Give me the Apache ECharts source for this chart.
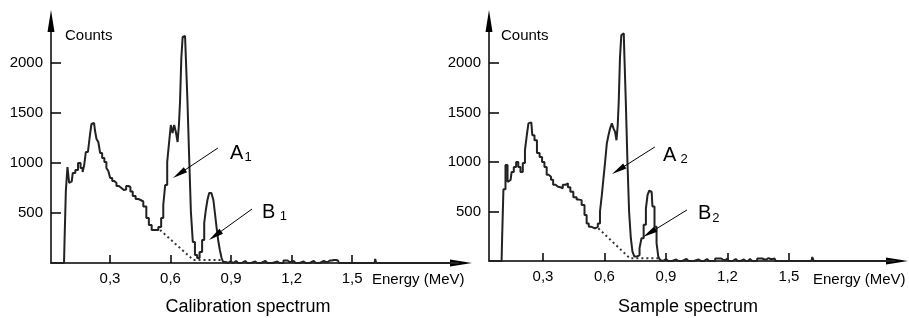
<!DOCTYPE html>
<html>
<head>
<meta charset="utf-8">
<script src="https://cdn.jsdelivr.net/npm/echarts@6/dist/echarts.min.js"></script>
<style>
  html, body { margin: 0; padding: 0; background: #fff; }
  #chart { width: 909px; height: 318px; }
</style>
</head>
<body>
<div id="chart"></div>
<script>
  const FONT = '"Liberation Sans", Arial, sans-serif';

  const energyTicks = [0.3, 0.6, 0.9, 1.2, 1.5];
  const countTicks = [500, 1000, 1500, 2000];

  // calibration spectrum
  const calContE = [0.007, 0.072, 0.077, 0.085, 0.093, 0.102, 0.110, 0.121, 0.135, 0.148, 0.160, 0.168, 0.176, 0.184, 0.197, 0.204, 0.212, 0.221, 0.229, 0.237, 0.247, 0.255, 0.267, 0.277, 0.287, 0.296, 0.306, 0.316, 0.326, 0.338, 0.350, 0.363, 0.374, 0.386, 0.396, 0.406, 0.419, 0.435, 0.446, 0.457, 0.473, 0.487, 0.498, 0.515, 0.531];
  const calContC = [0, 0, 220, 720, 960, 800, 815, 900, 930, 1000, 950, 910, 980, 1110, 1130, 1280, 1390, 1400, 1330, 1240, 1210, 1100, 1050, 1010, 950, 920, 850, 820, 800, 770, 750, 730, 735, 770, 760, 715, 670, 640, 630, 615, 565, 450, 380, 330, 330];
  const calPeakAE = [0.548, 0.559, 0.569, 0.578, 0.589, 0.597, 0.606, 0.614, 0.622, 0.631, 0.639, 0.644, 0.650, 0.657, 0.663, 0.672, 0.680, 0.688, 0.697, 0.705, 0.716, 0.726, 0.738];
  const calPeakAC = [360, 450, 580, 780, 1010, 1210, 1380, 1300, 1380, 1310, 1210, 1380, 1610, 2050, 2260, 2270, 2050, 1610, 1050, 510, 210, 80, 50];
  const calPeakBE = [0.750, 0.763, 0.771, 0.779, 0.787, 0.796, 0.809, 0.816, 0.824, 0.832, 0.840, 0.849, 0.857, 0.865];
  const calPeakBC = [110, 230, 400, 530, 630, 700, 700, 630, 500, 360, 230, 130, 50, 10];
  const calTailE = [0.88, 0.89, 0.90, 0.925, 0.935, 0.97, 0.98, 1.02, 1.03, 1.07, 1.08, 1.13, 1.14, 1.18, 1.19, 1.21, 1.22, 1.26, 1.27, 1.31, 1.32, 1.36, 1.37, 1.39, 1.41, 1.43, 1.44, 1.612, 1.617, 1.622, 2.03];
  const calTailC = [0, 15, 0, 20, 0, 20, 0, 15, 0, 20, 0, 15, 0, 25, 10, 20, 0, 15, 0, 20, 0, 20, 10, 25, 30, 25, 0, 0, 40, 0, 0];
  const calBgE = [0.548, 0.713, 0.860];
  const calBgC = [330, 30, 30];

  // sample spectrum
  const smpContE = [0.037, 0.098, 0.103, 0.111, 0.123, 0.131, 0.142, 0.152, 0.163, 0.175, 0.184, 0.196, 0.207, 0.217, 0.225, 0.233, 0.243, 0.253, 0.264, 0.277, 0.290, 0.301, 0.313, 0.323, 0.334, 0.344, 0.355, 0.367, 0.380, 0.391, 0.402, 0.416, 0.427, 0.440, 0.456, 0.472, 0.480, 0.497, 0.508, 0.518, 0.529, 0.545, 0.562];
  const smpContC = [0, 0, 220, 725, 970, 800, 820, 900, 950, 1000, 950, 900, 990, 1120, 1270, 1390, 1400, 1270, 1220, 1090, 1050, 1000, 950, 870, 850, 820, 770, 750, 745, 735, 770, 785, 745, 700, 645, 620, 615, 565, 465, 380, 345, 330, 345];
  const smpPeakAE = [0.573, 0.583, 0.591, 0.599, 0.607, 0.616, 0.623, 0.632, 0.640, 0.648, 0.655, 0.662, 0.667, 0.672, 0.679, 0.685, 0.694, 0.700, 0.708, 0.716, 0.724, 0.733, 0.740, 0.752, 0.765, 0.777];
  const smpPeakAC = [380, 500, 665, 835, 1000, 1190, 1270, 1340, 1390, 1340, 1305, 1220, 1370, 1610, 2050, 2280, 2300, 2080, 1610, 1000, 500, 230, 95, 45, 60, 130];
  const smpPeakBE = [0.784, 0.798, 0.806, 0.814, 0.822, 0.830, 0.838, 0.850, 0.858, 0.867, 0.875];
  const smpPeakBC = [230, 365, 530, 665, 710, 700, 550, 345, 180, 45, 10];
  const smpTailE = [0.885, 0.90, 0.91, 0.95, 0.96, 1.00, 1.01, 1.06, 1.07, 1.10, 1.11, 1.17, 1.18, 1.20, 1.21, 1.24, 1.25, 1.28, 1.29, 1.31, 1.32, 1.37, 1.38, 1.40, 1.41, 1.43, 1.44, 1.61, 1.617, 1.625, 2.02];
  const smpTailC = [0, 20, 0, 15, 0, 20, 0, 15, 0, 20, 0, 25, 10, 25, 0, 20, 0, 15, 0, 20, 0, 25, 15, 30, 20, 25, 0, 0, 40, 0, 0];
  const smpBgE = [0.570, 0.724, 0.871];
  const smpBgC = [330, 27, 27];

  // arrows [fromE, fromC, toE, toC] and labels [E, C]
  const calArrows = [[0.835, 1150, 0.643, 892], [1.004, 540, 0.821, 274]];
  const calLabels = [[0.895, 1100, '{m|A}{s|1}'], [1.054, 510, '{m|B} {s|1}']];
  const smpArrows = [[0.846, 1152, 0.668, 919], [1.002, 515, 0.819, 282]];
  const smpLabels = [[0.885, 1070, '{m|A} {s|2}'], [1.056, 475, '{m|B}{s|2}']];

  function pairs(xs, ys) {
    return xs.map((x, i) => [x, ys[i]]);
  }

  function xAxisFor(gridIndex, min, max) {
    return {
      type: 'value', gridIndex, min, max,
      axisLine: { onZero: false, symbol: ['none', 'triangle'], symbolSize: [7, 22], lineStyle: { color: '#000', width: 1.5 } },
      axisTick: { inside: true, length: 8, customValues: energyTicks, lineStyle: { color: '#000', width: 1.5 } },
      axisLabel: {
        customValues: energyTicks, margin: 8, color: '#000', fontSize: 15, fontFamily: FONT,
        formatter: v => String(v).replace('.', ',')
      },
      splitLine: { show: false }
    };
  }

  function yAxisFor(gridIndex, max) {
    return {
      type: 'value', gridIndex, min: 0, max,
      axisLine: { show: true, onZero: false, symbol: ['none', 'triangle'], symbolSize: [7, 22], lineStyle: { color: '#000', width: 1.5 } },
      axisTick: { show: true, inside: true, length: 10, customValues: countTicks, lineStyle: { color: '#000', width: 1.5 } },
      axisLabel: {
        customValues: countTicks, margin: 8, color: '#000', fontSize: 15, fontFamily: FONT, padding: [4, 0, 0, 0],
        formatter: v => String(v)
      },
      splitLine: { show: false }
    };
  }

  function spectrum(idx, data, arrows, labels) {
    return {
      type: 'line', xAxisIndex: idx, yAxisIndex: idx,
      data, step: 'middle', symbol: 'none', silent: true,
      lineStyle: { color: '#222', width: 2 },
      markLine: {
        silent: true, symbol: ['none', 'triangle'], symbolSize: [6, 15],
        lineStyle: { color: '#000', width: 1, type: 'solid' },
        label: { show: false },
        data: arrows.map(a => [{ coord: [a[0], a[1]] }, { coord: [a[2], a[3]] }])
      },
      markPoint: {
        silent: true, symbol: 'circle', symbolSize: 0,
        label: {
          show: true, position: 'right', distance: 0, color: '#000',
          rich: {
            m: { fontSize: 20, fontFamily: FONT, color: '#000' },
            s: { fontSize: 13, fontFamily: FONT, color: '#000', padding: [9, 0, 0, 1] }
          }
        },
        data: labels.map(l => ({ coord: [l[0], l[1]], label: { formatter: l[2] } }))
      }
    };
  }

  function background(idx, data) {
    return {
      type: 'line', xAxisIndex: idx, yAxisIndex: idx,
      data, symbol: 'none', silent: true,
      lineStyle: { color: '#333', width: 2, type: [2, 3] }
    };
  }

  function text(x, y, str, size, align) {
    return {
      type: 'text', x, y, silent: true,
      style: { text: str, fontSize: size, fontFamily: FONT, fill: '#000', textAlign: align || 'left', textVerticalAlign: 'middle' }
    };
  }

  const calData = pairs(calContE, calContC).concat(pairs(calPeakAE, calPeakAC), pairs(calPeakBE, calPeakBC), pairs(calTailE, calTailC));
  const smpData = pairs(smpContE, smpContC).concat(pairs(smpPeakAE, smpPeakAC), pairs(smpPeakBE, smpPeakBC), pairs(smpTailE, smpTailC));

  const chart = echarts.init(document.getElementById('chart'));
  chart.setOption({
    animation: false,
    backgroundColor: '#fff',
    grid: [
      { left: 51, top: 21, right: 448, bottom: 55 },
      { left: 489, top: 21, right: 12, bottom: 57 }
    ],
    xAxis: [xAxisFor(0, 0.0074, 2.040), xAxisFor(1, 0.0366, 2.027)],
    yAxis: [yAxisFor(0, 2420), yAxisFor(1, 2424)],
    series: [
      spectrum(0, calData, calArrows, calLabels),
      background(0, pairs(calBgE, calBgC)),
      spectrum(1, smpData, smpArrows, smpLabels),
      background(1, pairs(smpBgE, smpBgC))
    ],
    graphic: [
      text(65, 36, 'Counts', 15),
      text(501, 36, 'Counts', 15),
      text(372, 280, 'Energy (MeV)', 15),
      text(813, 280, 'Energy (MeV)', 15),
      text(248, 307, 'Calibration spectrum', 18, 'center'),
      text(688, 307, 'Sample spectrum', 18, 'center')
    ]
  });
</script>
</body>
</html>
